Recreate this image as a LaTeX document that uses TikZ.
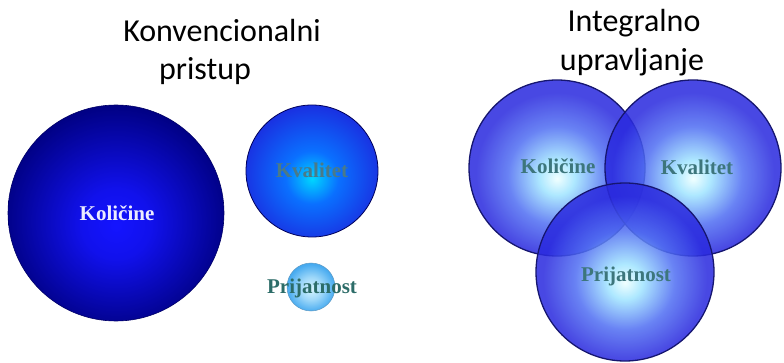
\documentclass[tikz,border=0pt]{standalone}
\usepackage{fontspec}
\setmainfont{Liberation Serif}
\newfontfamily\headfont{Carlito}
\usetikzlibrary{positioning}

% colours
\definecolor{navyedge}{RGB}{0,0,128}
\definecolor{brightblue}{RGB}{20,20,255}
\definecolor{kvedge}{RGB}{26,46,224}
\definecolor{kvmid}{RGB}{10,112,255}
\definecolor{kvcore}{RGB}{0,214,255}
\definecolor{prjedge}{RGB}{70,170,240}
\definecolor{prjcore}{RGB}{215,245,255}
\definecolor{vennedge}{RGB}{42,42,222}
\definecolor{vennmid}{RGB}{80,110,242}
\definecolor{vennlight}{RGB}{160,228,255}
\definecolor{venncore}{RGB}{238,255,255}
\definecolor{ringcol}{RGB}{22,22,112}
\definecolor{tealtext}{RGB}{61,118,124}
\definecolor{greytext}{RGB}{74,122,136}
\definecolor{darkteal}{RGB}{44,108,104}
\definecolor{labelwhite}{RGB}{236,236,255}

% radial fills, bright spot slightly below centre
\pgfdeclareradialshading{bigshade}{\pgfpoint{0bp}{-3bp}}{%
  color(0bp)=(brightblue); color(8bp)=(brightblue!85!navyedge);
  color(27bp)=(navyedge); color(50bp)=(navyedge)}
\pgfdeclareradialshading{kvshade}{\pgfpoint{0bp}{-3bp}}{%
  color(0bp)=(kvcore); color(10bp)=(kvmid);
  color(27bp)=(kvedge); color(50bp)=(kvedge)}
\pgfdeclareradialshading{prjshade}{\pgfpoint{0bp}{-2bp}}{%
  color(0bp)=(prjcore); color(12bp)=(prjcore!60!prjedge);
  color(25bp)=(prjedge); color(50bp)=(prjedge)}
\pgfdeclareradialshading{vennshade}{\pgfpoint{0bp}{-3bp}}{%
  color(0bp)=(venncore); color(5bp)=(vennlight);
  color(14bp)=(vennmid); color(23bp)=(vennedge); color(50bp)=(vennedge)}

\tikzset{
  headline/.style={font=\headfont\fontsize{32}{38}\selectfont, text=black,
    anchor=base, inner sep=0pt},
  lbl/.style={font=\fontsize{21}{24}\selectfont\bfseries, anchor=base, inner sep=0pt},
  ball/.style={circle, inner sep=0pt, outer sep=0pt},
  vennball/.style={ball, draw=ringcol, line width=1.3pt,
    shading=vennshade, fill opacity=0.86},
}

\begin{document}
\begin{tikzpicture}[x=1pt, y=-1pt]
  \useasboundingbox (0,0) rectangle (784,363);

  % ---- left: separate circles ----
  \node[headline] (h1) at (222,42) {Konvencionalni};
  \node[headline] (h2) at (205,80) {pristup};

  \node[ball, minimum size=216pt, shading=bigshade, draw=navyedge!80!black, line width=0.6pt] (qty) at (116,213) {};
  \node[ball, minimum size=132pt, shading=kvshade, draw=navyedge!70!black, line width=0.8pt] (qual) at (312,171) {};
  \node[ball, minimum size=48pt, shading=prjshade, draw=prjedge!60!gray, line width=0.5pt] (amen) at (311,287) {};

  \node[lbl, text=labelwhite] (qtyl) at (117,221) {Količine};
  \node[lbl, text=greytext] (quall) at (312,178) {Kvalitet};
  \node[lbl, text=darkteal] (amenl) at (312,293) {Prijatnost};

  % ---- right: overlapping circles ----
  \node[headline] (h3) at (634,32) {Integralno};
  \node[headline] (h4) at (632,71) {upravljanje};

  \node[vennball, minimum size=176pt] (vq) at (557,168) {};
  \node[vennball, minimum size=176pt] (vk) at (693,168) {};
  \node[vennball, minimum size=178pt] (vp) at (625,272) {};

  \node[lbl, text=tealtext] (vql) at (558,174) {Količine};
  \node[lbl, text=tealtext] (vkl) at (697,175) {Kvalitet};
  \node[lbl, text=tealtext] (vpl) at (626,282) {Prijatnost};
\end{tikzpicture}
\end{document}
